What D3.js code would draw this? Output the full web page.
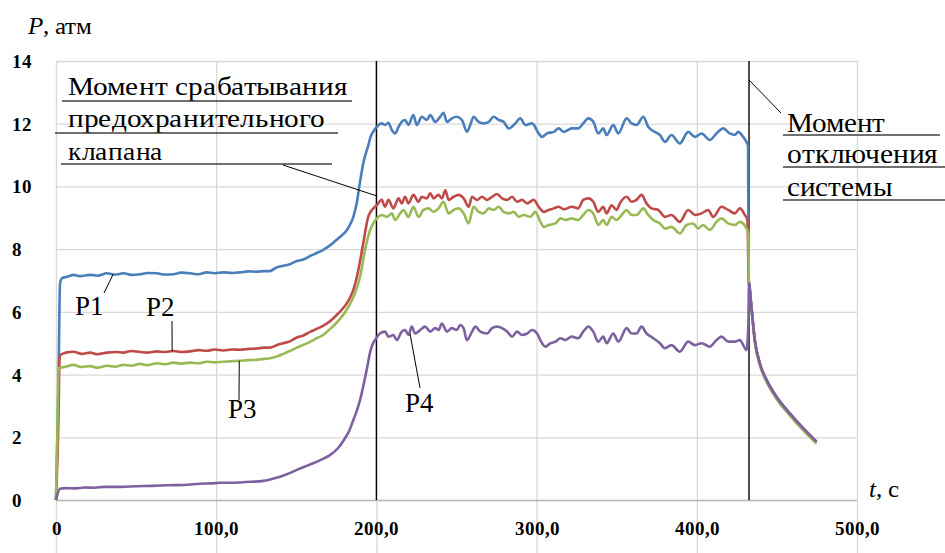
<!DOCTYPE html>
<html>
<head>
<meta charset="utf-8">
<script src="https://cdn.jsdelivr.net/npm/d3@7"></script>
<style>
  @font-face { font-family: "ChartSerif"; src: local("Liberation Serif"), local("LiberationSerif"), local("Times New Roman"); font-weight: normal; font-style: normal; }
  @font-face { font-family: "ChartSerif"; src: local("Liberation Serif Bold"), local("LiberationSerif-Bold"); font-weight: bold; font-style: normal; }
  @font-face { font-family: "ChartSerif"; src: local("Liberation Serif Italic"), local("LiberationSerif-Italic"); font-weight: normal; font-style: italic; }
  body { margin: 0; }
  svg, svg text, svg tspan { font-family: "ChartSerif", "Liberation Serif", "Times New Roman", Tinos, FreeSerif, serif; }
</style>
</head>
<body>
<script>
// tick values
var xTicks = [0, 100, 200, 300, 400, 500];
var yTicks = [2, 4, 6, 8, 10, 12, 14];

// marker times (s): safety valve opens, system switched off
var markerTimes = [200, 432.6];

// decay after switch-off, shared by all sensors [t, P]
var decay = [[432.6, 6.91], [434.1, 6.16], [436.2, 5.1], [439.3, 4.36], [443.5, 3.83],
    [449.7, 3.29], [458, 2.76], [466.3, 2.29], [474.7, 1.86]];
var decayLow = [[432.7, 6.85], [434.1, 6.1], [436.2, 5.04], [439.3, 4.3], [443.5, 3.77],
    [449.7, 3.23], [458, 2.7], [466.3, 2.23], [474.7, 1.8]];

// P1 [t, P]
var p1 = [[0, 0], [1.5, 3.5], [2.5, 6.9], [3.7, 7.07], [7, 7.12], [10.9, 7.18], [15, 7.14], [21.3, 7.18],
    [26, 7.15], [31.8, 7.23], [37, 7.19], [42.1, 7.23], [47, 7.18], [52.5, 7.2], [57, 7.24], [62.9, 7.23],
    [68, 7.19], [73.3, 7.2], [78, 7.25], [83.7, 7.23], [89, 7.2], [94.1, 7.26], [99, 7.23], [104.5, 7.26],
    [110, 7.24], [114.9, 7.26], [120, 7.29], [125.3, 7.28], [130, 7.3], [133.6, 7.3], [137, 7.4], [141.9, 7.47],
    [146, 7.52], [150.3, 7.62], [154, 7.66], [158.6, 7.78], [162, 7.86], [166.9, 7.98], [171, 8.12], [175.2, 8.3],
    [178, 8.42], [181.5, 8.6], [183.5, 8.78], [185.6, 9.03], [187.7, 9.46], [189.3, 9.99], [191.8, 10.74],
    [194.9, 11.3], [196.5, 11.6], [198, 11.75], [200.2, 11.9],
    [203.3, 12.01], [205.4, 11.96], [207.5, 12.03], [209.6, 11.8], [211.7, 11.69], [213.8, 11.9], [215.8, 12.06],
    [217.9, 12.12], [220, 11.96], [223.1, 12.28], [225.2, 11.96], [228.3, 12.22], [231.5, 12.12], [233.6, 12.28],
    [236.7, 12.06], [239.8, 12.22], [241.9, 12.35], [244, 12.06], [247.1, 12.17], [250.2, 12.22], [253.4, 12.12],
    [256.5, 11.74], [258.6, 11.96], [260.7, 12.22], [263.8, 12.06], [266.9, 12.01], [270.1, 12.06], [273.2, 12.22],
    [276.3, 12.12], [279.4, 12.06], [282.6, 11.85], [286.7, 12.01], [289.8, 12.17], [293, 11.96], [297.2, 12.01],
    [301.3, 11.69], [303.4, 11.58], [306.5, 11.69], [310.7, 11.74], [313.8, 11.85], [316.9, 11.74],
    [321.9, 11.85], [326, 11.85], [329.1, 12.01], [332.3, 12.17], [335.4, 12.06], [338.5, 11.69], [341.6, 11.85],
    [343.7, 11.64], [347.9, 11.96], [351, 11.69], [356.2, 12.17], [359.3, 12.01], [362.4, 11.96], [366.6, 12.22],
    [369.7, 11.9], [373.8, 11.74], [377, 11.64], [380.1, 11.42], [384.2, 11.64], [389.4, 11.37], [394.6, 11.74],
    [398.8, 11.58], [403, 11.69], [408.1, 11.48], [412.3, 11.69], [416.5, 11.85], [420.6, 11.69], [423.7, 11.64],
    [425.8, 11.74], [428.9, 11.58], [431, 11.42], [432, 11.3], [432.4, 7.0]];

// P2 [t, P]
var p2 = [[0, 0], [1.5, 2.5], [2.2, 4.5], [2.6, 4.62], [6, 4.7], [10.9, 4.73], [16, 4.66], [21.3, 4.7],
    [26, 4.65], [31.8, 4.7], [37, 4.72], [42.1, 4.7], [47, 4.75], [52.5, 4.72], [57, 4.7], [62.9, 4.74],
    [68, 4.72], [73.3, 4.75], [78, 4.72], [83.7, 4.74], [89, 4.78], [94.1, 4.76], [99, 4.8], [104.5, 4.77],
    [110, 4.8], [114.9, 4.79], [120, 4.82], [125.3, 4.83], [130, 4.86], [133.6, 4.86], [138, 4.94], [141.9, 5.0],
    [146, 5.06], [150.3, 5.18], [154, 5.24], [158.6, 5.36], [162, 5.44], [166.9, 5.56], [171, 5.7], [175.2, 5.9],
    [178, 6.05], [181.5, 6.27], [183.5, 6.45], [185.6, 6.7], [188.7, 7.33], [191.8, 8.19], [194.9, 9.03],
    [196.5, 9.2], [198.1, 9.3], [200.2, 9.4],
    [203.3, 9.57], [205.4, 9.35], [207.5, 9.57], [210.6, 9.3], [213.8, 9.62], [215.8, 9.46], [217.9, 9.67],
    [220, 9.46], [223.1, 9.73], [226.3, 9.51], [228.3, 9.67], [231.5, 9.62], [233.6, 9.78], [235.7, 9.62],
    [238.8, 9.73], [240.9, 9.62], [243, 9.88], [245.1, 9.57], [248.2, 9.67], [251.3, 9.73], [254.5, 9.62],
    [257.6, 9.35], [259.7, 9.67], [262.8, 9.57], [265.9, 9.67], [269.1, 9.57], [272.2, 9.67], [275.3, 9.76],
    [278.4, 9.62], [281.6, 9.57], [284.7, 9.67], [287.8, 9.51], [290.9, 9.57], [294.1, 9.46], [298.2, 9.57],
    [301.3, 9.35], [304.5, 9.19], [307.6, 9.25], [310.7, 9.3], [313.8, 9.35], [317, 9.27],
    [321.9, 9.35], [326, 9.3], [329.1, 9.57], [332.3, 9.62], [335.4, 9.51], [338.5, 9.19], [341.6, 9.35],
    [343.7, 9.14], [346.8, 9.4], [349.9, 9.25], [352, 9.46], [356.2, 9.67], [359.3, 9.51], [362.4, 9.57],
    [365.5, 9.73], [368.6, 9.46], [371.8, 9.3], [375.9, 9.25], [380.1, 9.03], [384.2, 9.09], [389.4, 8.87],
    [394.6, 9.25], [398.8, 9.09], [403, 9.14], [407.1, 9.25], [410.2, 9.03], [415.4, 9.35], [419.6, 9.25],
    [423.7, 9.14], [426.9, 9.3], [430, 9.09], [431.6, 8.93], [432.4, 7.0]];

// P3 [t, P]
var p3 = [[0, 0], [1, 2.5], [1.6, 4.2], [6, 4.25], [10.9, 4.31], [16, 4.24], [21.3, 4.27], [26, 4.22],
    [31.8, 4.28], [37, 4.25], [42.1, 4.31], [47, 4.28], [52.5, 4.34], [57, 4.3], [62.9, 4.36], [68, 4.33],
    [73.3, 4.38], [78, 4.35], [83.7, 4.38], [89, 4.36], [94.1, 4.41], [99, 4.39], [104.5, 4.41], [110, 4.43],
    [114.9, 4.44], [120, 4.46], [125.3, 4.47], [130, 4.5], [133.6, 4.52], [138, 4.58], [141.9, 4.66],
    [146, 4.75], [150.3, 4.86], [154, 4.94], [158.6, 5.04], [162, 5.14], [166.9, 5.27], [171, 5.45],
    [175.2, 5.66], [178.5, 5.85], [182.5, 6.16], [186.6, 6.59], [189.8, 7.12], [192.9, 7.97], [196, 8.6],
    [198.1, 8.82], [200.2, 8.98],
    [203.3, 9.09], [206.5, 9.03], [209.6, 9.14], [211.7, 8.93], [214.8, 9.14], [216.9, 9.25], [220, 9.03],
    [223.1, 9.35], [226.3, 9.03], [229.4, 9.25], [232.5, 9.3], [235.7, 9.19], [238.8, 9.3], [241.9, 9.51],
    [245.1, 9.14], [248.2, 9.25], [251.3, 9.3], [254.5, 9.14], [257.6, 8.82], [260.7, 9.35], [263.8, 9.19],
    [266.9, 9.14], [270.1, 9.3], [273.2, 9.25], [276.3, 9.35], [279.4, 9.19], [282.6, 9.14], [285.7, 9.19],
    [288.8, 9.03], [292, 9.09], [296.1, 9.03], [299.2, 9.19], [302.4, 8.87], [304.5, 8.71], [307.6, 8.77],
    [311.8, 8.82], [314.9, 8.98], [318, 8.93],
    [321.9, 8.98], [326, 8.93], [329.1, 9.09], [332.3, 9.25], [335.4, 9.14], [338.5, 8.77], [341.6, 8.93],
    [343.7, 8.77], [346.8, 9.03], [349.9, 8.93], [353.1, 9.09], [356.2, 9.25], [359.3, 9.09], [362.4, 9.09],
    [366.6, 9.3], [369.7, 9.09], [372.8, 8.93], [377, 8.82], [380.1, 8.66], [384.2, 8.71], [389.4, 8.5],
    [393.6, 8.77], [397.7, 8.82], [400.9, 8.66], [404, 8.77], [408.1, 8.61], [412.3, 8.87], [415.4, 8.98],
    [419.6, 8.82], [423.7, 8.77], [426.9, 8.87], [431, 8.66], [432.2, 8.5], [432.5, 6.9]];

// P4 [t, P]
var p4 = [[0, 0], [2.5, 0.36], [6, 0.38], [12, 0.37], [18, 0.4], [24, 0.39], [30, 0.42], [40.7, 0.42],
    [50, 0.44], [60, 0.45], [70, 0.47], [80, 0.48], [90, 0.52], [97, 0.53], [102.4, 0.55], [108, 0.55],
    [114.9, 0.56], [122, 0.58], [129.4, 0.61], [134, 0.66], [139.9, 0.74], [145, 0.84], [150.3, 0.96],
    [155, 1.06], [160.6, 1.17], [165, 1.27], [171, 1.43], [176, 1.65], [180.4, 1.97], [183, 2.2], [185.6, 2.55],
    [187.8, 2.85], [189.8, 3.19], [192.9, 3.9], [194.5, 4.3], [196, 4.7], [197.5, 4.95], [199.1, 5.1],
    [202.2, 5.31], [205.4, 5.37], [207.5, 5.21], [210.6, 5.26], [212.7, 5.1], [215.8, 5.37], [217.9, 5.42],
    [220, 5.26], [222.1, 5.53], [224.2, 5.31], [227.3, 5.42], [230.4, 5.53], [233.6, 5.37], [236.7, 5.48],
    [238.8, 5.42], [240.9, 5.63], [244, 5.37], [247.1, 5.48], [250.2, 5.42], [252.3, 5.58], [254.4, 5.48],
    [256.5, 5.1], [259.7, 5.37], [261.8, 5.53], [264.9, 5.37], [269.1, 5.31], [272.2, 5.48], [275.3, 5.53],
    [278.4, 5.48], [281.6, 5.37], [284.7, 5.21], [287.8, 5.37], [290.9, 5.26], [294.1, 5.31], [297.2, 5.42],
    [300.3, 5.31], [303.4, 5.0], [305.5, 4.89], [308.6, 5.0], [311.8, 5.05], [314.9, 5.16], [318, 5.1],
    [321.9, 5.21], [326, 5.16], [329.1, 5.37], [332.3, 5.53], [335.4, 5.37], [338.5, 5.05], [341.6, 5.21],
    [343.7, 5.0], [347.9, 5.31], [351, 5.05], [356.2, 5.48], [359.3, 5.31], [362.4, 5.31], [365.5, 5.53],
    [368.6, 5.31], [372.8, 5.16], [377, 5.0], [380.1, 4.84], [384.2, 4.94], [389.4, 4.73], [394.6, 5.05],
    [398.8, 4.94], [403, 5.0], [408.1, 4.89], [412.3, 5.1], [415.4, 5.21], [419.6, 5.05], [423.7, 5.05],
    [426.9, 5.1], [431, 4.78], [432.2, 5.6]];

var seriesNames = ["P1", "P2", "P3", "P4"];
var seriesColors = ["#4a7ebb", "#be4b48", "#98b954", "#7d60a0"];
var seriesData = [p1.concat(decay), p2.concat(decay), p3.concat(decayLow), p4.concat(decay)];

// label [x, baseline] in px, leader from curve point [t, P] to label point in px
var labelPos = [[75, 315], [146, 316], [228, 418], [405, 412]];
var leaderFrom = [[35.7, 7.2], [72.5, 4.75], [114.4, 4.44], [221, 5.3]];
var leaderTo = [[104, 293], [172, 321], [239, 400], [420, 388]];

var fontStack = "ChartSerif, 'Liberation Serif', 'Times New Roman', Tinos, FreeSerif, serif";

var width = 945, height = 553;

var svg = d3.select("body")
    .append("svg")
    .attr("width", width)
    .attr("height", height)
    .style("font-family", fontStack);

var x = d3.scaleLinear()
    .domain([0, 500])
    .range([56, 857]);

var y = d3.scaleLinear()
    .domain([0, 14])
    .range([500, 61]);

//serif face on every text
function serifText(sel, size) {
    return sel.style("font-family", fontStack)
        .style("font-size", size + "px")
        .attr("fill", "#000");
}

//x axis: ticks go up as vertical grid, running down past the axis too
var xAxis = d3.axisBottom(x)
    .tickValues(xTicks)
    .tickSize(-(height - 61))
    .tickFormat(function(d) { return d === 0 ? "0" : d.toFixed(1).replace(".", ","); });

var gx = svg.append("g")
    .attr("transform", "translate(0," + height + ")")
    .call(xAxis);
gx.attr("font-family", null).attr("font-size", null);
gx.select(".domain").remove();
gx.selectAll(".tick line").attr("stroke", "#d9d9d9").attr("stroke-width", 1.3);
serifText(gx.selectAll(".tick text"), 19)
    .attr("y", -32)
    .style("font-weight", "bold");

//y axis: horizontal grid
var yAxis = d3.axisLeft(y)
    .tickValues([0].concat(yTicks))
    .tickSize(-(857 - 56))
    .tickFormat(d3.format("d"));

var gy = svg.append("g")
    .attr("transform", "translate(56,0)")
    .call(yAxis);
gy.attr("font-family", null).attr("font-size", null).attr("text-anchor", "start");
gy.select(".domain").remove();
gy.selectAll(".tick line").attr("stroke", function(d) { return d === 0 ? "#b3b3b3" : "#d9d9d9"; })
    .attr("stroke-width", 1.3);
serifText(gy.selectAll(".tick text"), 19)
    .attr("x", -44)
    .attr("dy", "0.34em")
    .style("font-weight", "bold");

//black marker lines
svg.selectAll(".marker")
    .data(markerTimes)
    .enter()
    .append("line")
    .attr("class", "marker")
    .attr("x1", function(d) { return x(d); })
    .attr("x2", function(d) { return x(d); })
    .attr("y1", y(14))
    .attr("y2", y(0))
    .attr("stroke", "#000")
    .attr("stroke-width", 1.4);

var line = d3.line()
    .x(function(d) { return x(d[0]); })
    .y(function(d) { return y(d[1]); })
    .curve(d3.curveMonotoneX);

svg.selectAll(".series")
    .data(seriesData)
    .enter()
    .append("path")
    .attr("class", "series")
    .attr("d", line)
    .attr("fill", "none")
    .attr("stroke", function(d, i) { return seriesColors[i]; })
    .attr("stroke-width", 2.6)
    .attr("stroke-linejoin", "round");

//axis titles
var pTitle = serifText(svg.append("text"), 25)
    .attr("x", 28)
    .attr("y", 34);
pTitle.append("tspan").style("font-style", "italic").text("P");
pTitle.append("tspan").text(", атм");

var tTitle = serifText(svg.append("text"), 25)
    .attr("x", 869)
    .attr("y", 497);
tTitle.append("tspan").style("font-style", "italic").text("t");
tTitle.append("tspan").text(", с");

//series labels with leaders
svg.selectAll(".leader")
    .data(leaderFrom)
    .enter()
    .append("line")
    .attr("class", "leader")
    .attr("x1", function(d) { return x(d[0]); })
    .attr("y1", function(d) { return y(d[1]); })
    .attr("x2", function(d, i) { return leaderTo[i][0]; })
    .attr("y2", function(d, i) { return leaderTo[i][1]; })
    .attr("stroke", "#000")
    .attr("stroke-width", 1);

serifText(svg.selectAll(".slabel")
    .data(seriesNames)
    .enter()
    .append("text")
    .attr("class", "slabel"), 27)
    .attr("x", function(d, i) { return labelPos[i][0]; })
    .attr("y", function(d, i) { return labelPos[i][1]; })
    .text(function(d) { return d; });

//callout: valve opening
var note1 = ["Момент срабатывания", "предохранительного", "клапана"];
var note1Base = [95, 127, 160];
var note1Width = [279, 257, 95];
var note1Rule = [[62, 352, 101], [55, 338, 133], [61, 332, 164]];
serifText(svg.selectAll(".n1")
    .data(note1)
    .enter()
    .append("text")
    .attr("class", "n1"), 26)
    .attr("x", 68)
    .attr("y", function(d, i) { return note1Base[i]; })
    .attr("textLength", function(d, i) { return note1Width[i]; })
    .attr("lengthAdjust", "spacingAndGlyphs")
    .text(function(d) { return d; });
svg.selectAll(".r1")
    .data(note1Rule)
    .enter()
    .append("line")
    .attr("x1", function(d) { return d[0]; })
    .attr("x2", function(d) { return d[1]; })
    .attr("y1", function(d) { return d[2]; })
    .attr("y2", function(d) { return d[2]; })
    .attr("stroke", "#404040")
    .attr("stroke-width", 1.6);
svg.append("line")
    .attr("x1", 283).attr("y1", 165)
    .attr("x2", x(200)).attr("y2", y(9.7))
    .attr("stroke", "#000").attr("stroke-width", 1);

//callout: switch-off
var note2 = ["Момент", "отключения", "системы"];
var note2Base = [132, 163, 196];
var note2Width = [98, 150, 105];
var note2Rule = [[783, 940, 135], [783, 945, 167], [783, 945, 200]];
serifText(svg.selectAll(".n2")
    .data(note2)
    .enter()
    .append("text")
    .attr("class", "n2"), 27)
    .attr("x", 787)
    .attr("y", function(d, i) { return note2Base[i]; })
    .attr("textLength", function(d, i) { return note2Width[i]; })
    .attr("lengthAdjust", "spacingAndGlyphs")
    .text(function(d) { return d; });
svg.selectAll(".r2")
    .data(note2Rule)
    .enter()
    .append("line")
    .attr("x1", function(d) { return d[0]; })
    .attr("x2", function(d) { return d[1]; })
    .attr("y1", function(d) { return d[2]; })
    .attr("y2", function(d) { return d[2]; })
    .attr("stroke", "#404040")
    .attr("stroke-width", 1.6);
svg.append("line")
    .attr("x1", x(432.6)).attr("y1", 80)
    .attr("x2", 781).attr("y2", 113)
    .attr("stroke", "#000").attr("stroke-width", 1);
</script>
</body>
</html>
